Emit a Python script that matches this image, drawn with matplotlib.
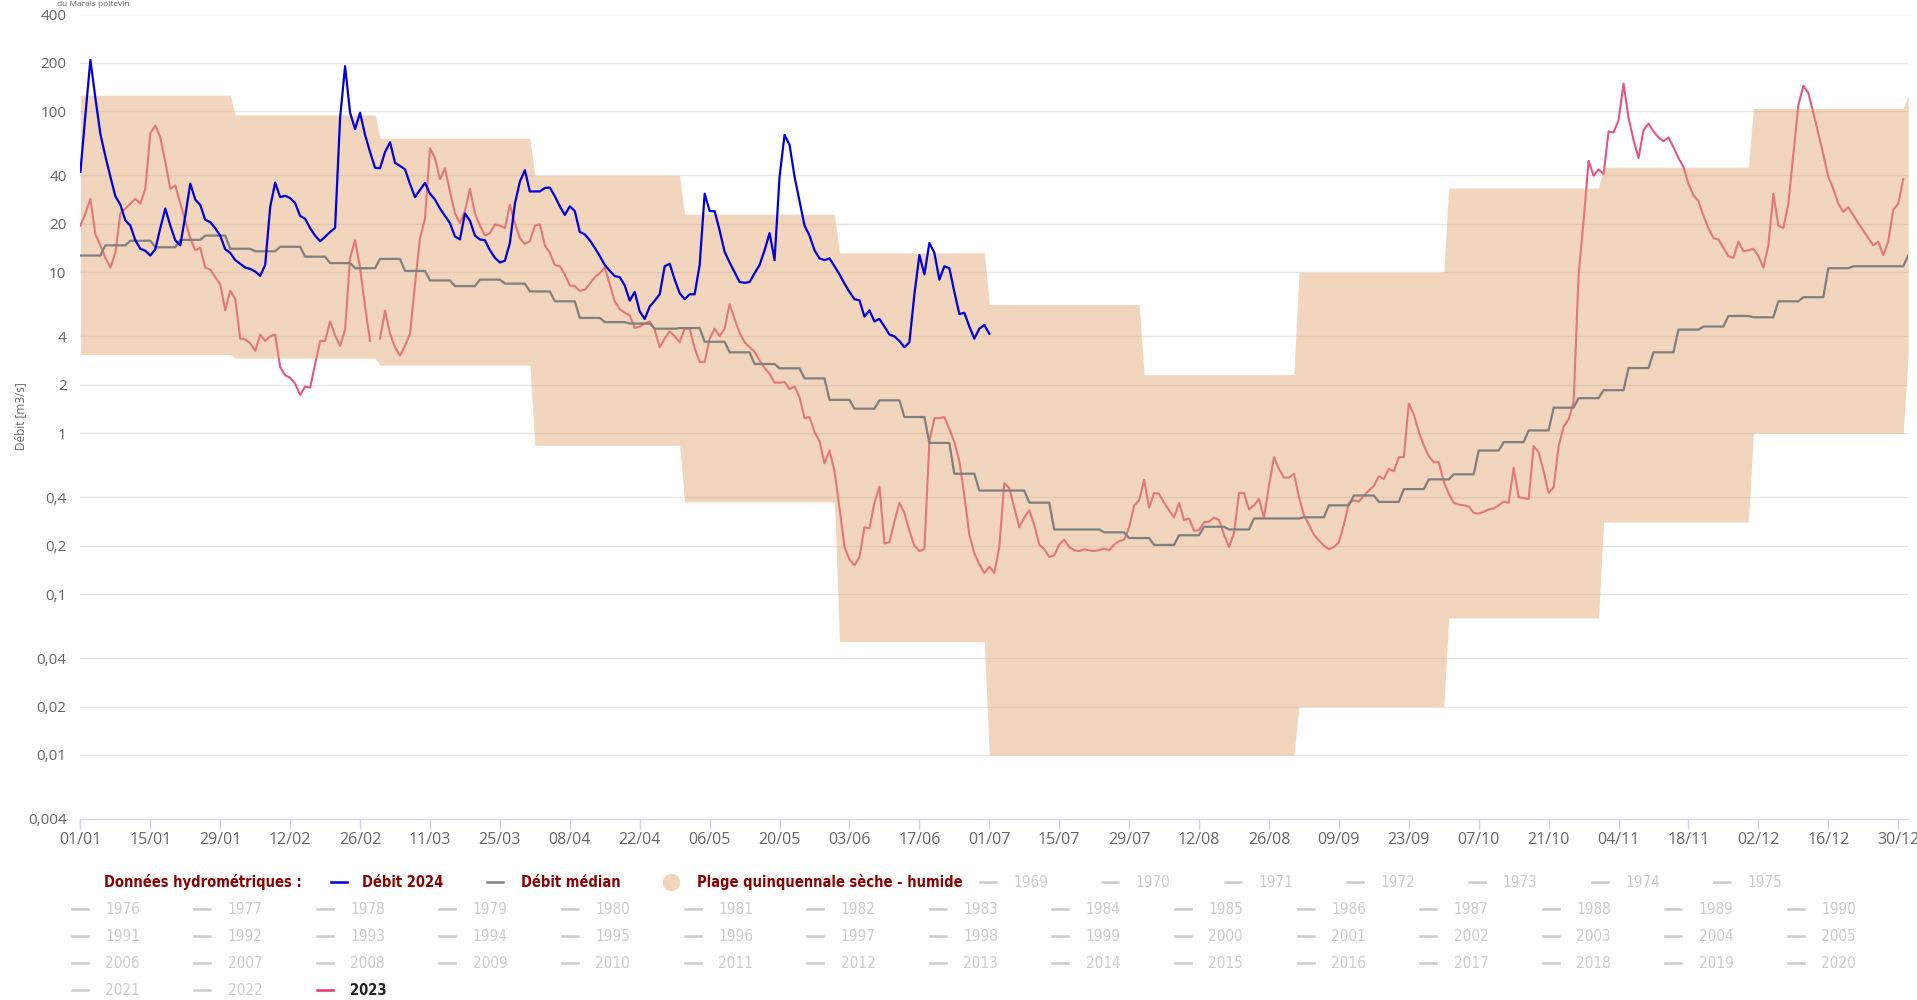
import numpy as np
import pandas as pd
import matplotlib
matplotlib.use("Agg")
import matplotlib.pyplot as plt
import matplotlib.dates as mdates
from matplotlib import font_manager as fm
from matplotlib.lines import Line2D

# Plage quinquennale seche / humide, une valeur par mois (m3/s)
plage_haute = [126, 95, 68, 40, 23, 13.2, 6.3, 2.31, 10, 33.4, 44.9, 104]
plage_basse = [3.08, 2.93, 2.65, 0.84, 0.374, 0.0506, 0.01, 0.01, 0.02, 0.071, 0.28, 1.0]

# Debit median, paliers de 5 jours
mediane_5j = [12.7, 14.7, 15.7, 14.3, 15.9, 16.9, 14.0, 13.5, 14.4, 12.5,
              11.4, 10.6, 12.1, 10.2, 8.9, 8.2, 9.0, 8.5, 7.6, 6.6,
              5.2, 4.9, 4.8, 4.46, 4.5, 3.7, 3.18, 2.69, 2.53, 2.19,
              1.61, 1.42, 1.6, 1.26, 0.87, 0.56, 0.44, 0.44, 0.37, 0.252,
              0.252, 0.242, 0.223, 0.202, 0.232, 0.262, 0.252, 0.295, 0.295, 0.30,
              0.356, 0.41, 0.374, 0.449, 0.516, 0.555, 0.78, 0.88, 1.04, 1.44,
              1.65, 1.85, 2.54, 3.18, 4.4, 4.6, 5.35, 5.25, 6.6, 7.0,
              10.6, 10.9, 10.9, 10.9]

# Debit journalier 2024 (du 01/01 au 01/07)
debit_2024 = [42, 95, 209, 121, 72.4, 52.6, 39.3, 29.7, 26.3, 21,
              19.5, 15.8, 14, 13.6, 12.7, 13.9, 18.8, 24.9, 19.5, 15.8,
              14.7, 22.4, 35.6, 28.3, 26.2, 21.2, 20.5, 18.8, 16.9, 13.9,
              13.2, 11.9, 11.3, 10.7, 10.5, 10.1, 9.5, 11.1, 25.4, 36.1,
              29.3, 29.9, 28.9, 26.9, 22.4, 21.5, 18.8, 16.9, 15.6, 16.6,
              17.8, 18.9, 91, 191, 98, 77.6, 98, 71.4, 55.9, 44.6,
              44.3, 55.9, 64.3, 47.9, 45.8, 43.6, 35.4, 29.3, 32.5, 35.9,
              30.8, 28.3, 24.9, 22.4, 20.2, 16.7, 16, 23.2, 20.9, 16.9,
              16, 15.8, 13.7, 12.3, 11.5, 11.8, 15.2, 26.7, 36.6, 43.1,
              31.8, 31.8, 31.8, 33.4, 33.6, 29.7, 25.7, 22.7, 25.7, 24,
              17.8, 17.2, 15.8, 14.2, 12.6, 11.1, 10.2, 9.46, 9.33, 8.28,
              6.66, 7.55, 5.7, 5.13, 6.12, 6.66, 7.3, 10.9, 11.3, 9.0,
              7.4, 6.8, 7.3, 7.3, 11.1, 30.8, 24, 24, 18.2, 13.4,
              11.5, 10, 8.7, 8.6, 8.7, 9.86, 11.1, 13.7, 17.5, 11.9,
              39.3, 71.4, 62, 39.3, 27.7, 19.5, 16.9, 13.7, 12.2, 11.9,
              12.2, 10.9, 9.7, 8.5, 7.55, 6.8, 6.7, 5.3, 5.8, 4.95,
              5.13, 4.6, 4.1, 4.0, 3.74, 3.42, 3.67, 7.3, 12.8, 9.7,
              15.2, 13.2, 9.0, 10.9, 10.6, 7.55, 5.5, 5.6, 4.6, 3.87,
              4.46, 4.7, 4.15]

# Debit journalier 2023 (365 jours)
debit_2023 = [19.5, 23.2, 28.6, 17.2, 14.7, 12.3, 10.7, 13.2, 23.2, 24.9,
              26.7, 28.6, 26.7, 33, 73, 81.7, 68.9, 48.5, 33, 34.7,
              26.7, 20.9, 16.3, 13.7, 14.2, 10.7, 10.4, 9.33, 8.4, 5.8,
              7.7, 6.8, 3.87, 3.82, 3.61, 3.25, 4.1, 3.74, 4.0, 4.1,
              2.58, 2.29, 2.21, 2.03, 1.73, 1.95, 1.92, 2.69, 3.74, 3.74,
              4.95, 4.05, 3.49, 4.4, 12.3, 15.8, 10.7, 6.12, 3.74,
              3.87, 5.78, 4.15, 3.42, 3.03, 3.49, 4.15, 8.4, 16.3, 21.6,
              59, 51.3, 37.9, 44.3, 31.8, 23.2, 20.2, 24, 33, 23.2,
              19.5, 16.9, 17.5, 19.8, 19.5, 18.8, 26.2, 20.2, 16.3, 15,
              15.6, 19.5, 19.9, 14.7, 13.2, 11.1, 10.9, 9.7, 8.28, 8.2,
              7.66, 7.8, 8.5, 9.33, 9.86, 10.7, 8.4, 6.6, 5.9, 5.6,
              5.4, 4.5, 4.6, 4.8, 4.95, 4.4, 3.42, 3.87, 4.3, 4.0,
              3.67, 4.46, 4.46, 3.37, 2.77, 2.77, 3.87, 4.46, 4.0, 4.46,
              6.34, 5.13, 4.2, 3.67, 3.42, 3.2, 2.83, 2.54, 2.34, 2.06,
              2.06, 2.08, 1.88, 1.95, 1.67, 1.24, 1.26, 1.02, 0.89, 0.65,
              0.78, 0.58, 0.344, 0.196, 0.164, 0.151, 0.17, 0.26, 0.256, 0.369,
              0.466, 0.206, 0.21, 0.282, 0.369, 0.32, 0.247, 0.2, 0.185, 0.19,
              0.89, 1.24, 1.24, 1.26, 1.06, 0.88, 0.67, 0.41, 0.234, 0.179,
              0.153, 0.135, 0.148, 0.135, 0.196, 0.489, 0.456, 0.344, 0.26, 0.299,
              0.332, 0.269, 0.203, 0.19, 0.17, 0.174, 0.203, 0.218, 0.196, 0.187,
              0.185, 0.19, 0.187, 0.185, 0.188, 0.192, 0.187, 0.203, 0.213, 0.218,
              0.26, 0.356, 0.382, 0.513, 0.344, 0.425, 0.42, 0.369, 0.332, 0.299,
              0.369, 0.288, 0.295, 0.247, 0.25, 0.28, 0.282, 0.299, 0.288, 0.234,
              0.196, 0.24, 0.425, 0.425, 0.336, 0.356, 0.39, 0.299, 0.472, 0.71,
              0.6, 0.53, 0.53, 0.56, 0.40, 0.31, 0.27, 0.234, 0.215, 0.2,
              0.19, 0.196, 0.21, 0.27, 0.369, 0.382, 0.376, 0.41, 0.44, 0.47,
              0.54, 0.52, 0.6, 0.58, 0.71, 0.71, 1.53, 1.31, 1.02, 0.84,
              0.72, 0.66, 0.66, 0.5, 0.42, 0.37, 0.36, 0.356, 0.35, 0.32,
              0.316, 0.325, 0.336, 0.34, 0.356, 0.376, 0.369, 0.61, 0.4, 0.395,
              0.39, 0.83, 0.76, 0.58, 0.425, 0.46, 0.83, 1.1, 1.22, 1.56,
              9.7, 20.9, 49.2, 39.8, 43.6, 40.7, 75, 74, 88, 149,
              91, 66.5, 51.3, 76.5, 84, 75, 68.9, 65.2, 68.9, 59.8,
              51.3, 45.2, 35.4, 30.1, 27.7, 22.4, 18.8, 16.3, 16, 14.2,
              12.6, 12.3, 15.5, 13.5, 13.7, 14, 12.6, 10.7, 14.7, 30.8,
              19.5, 18.8, 26.7, 54, 109, 144, 130, 98, 73, 54,
              39.3, 33, 26.7, 23.7, 25.4, 22.7, 20.2, 18.2, 16.3, 14.7,
              15.5, 12.8, 15.5, 24.4, 26.7, 37.9]

yticks = [400, 200, 100, 40, 20, 10, 4, 2, 1, 0.4, 0.2, 0.1, 0.04, 0.02, 0.01, 0.004]
ytick_labels = ["400", "200", "100", "40", "20", "10", "4", "2", "1", "0,4", "0,2",
                "0,1", "0,04", "0,02", "0,01", "0,004"]
annees_grises = list(range(1969, 2023))

# --- mise en forme des series ---
jours = pd.date_range("2024-01-01", "2025-01-01")
haut = np.array(plage_haute)[jours.month - 1]
bas = np.array(plage_basse)[jours.month - 1]
mediane = np.append(np.repeat(mediane_5j, 5)[:366], mediane_5j[0])
s2023 = pd.Series(debit_2023,
                  index=pd.date_range("2023-01-01", "2023-12-31") + pd.DateOffset(years=1))
s2023 = s2023.reindex(jours[:366])

W, H = 1917, 1000
fig = plt.figure(figsize=(W / 100, H / 100), dpi=100)
ax = fig.add_axes([80.4 / W, 1 - 819 / H, 1827.8 / W, 804.5 / H])

col_plage = "#e2a26c"
ax.plot(s2023.index, s2023.values, color="#e0386c", lw=1.5, alpha=0.85, zorder=1.5)
ax.fill_between(jours, bas, haut, color=col_plage, alpha=0.45, lw=0, zorder=2)
ax.plot(jours, mediane, color="#808080", lw=1.6, zorder=3)
ax.plot(jours[:len(debit_2024)], debit_2024, color="#0000dd", lw=1.6, zorder=4)

ax.set_yscale("log")
ax.set_ylim(0.004, 400)
ax.set_xlim(jours[0], jours[-1])
ax.set_yticks(yticks)
ax.set_yticklabels(ytick_labels)
ax.yaxis.set_minor_locator(matplotlib.ticker.NullLocator())
ax.set_xticks(pd.date_range("2024-01-01", "2024-12-30", freq="14D"))
ax.xaxis.set_major_formatter(mdates.DateFormatter("%d/%m"))

ax.set_axisbelow(True)
ax.yaxis.grid(True, color="#e6e6e6", lw=1)
for sp in ["top", "right", "left"]:
    ax.spines[sp].set_visible(False)
ax.spines["bottom"].set_color("#ccd6eb")
ax.tick_params(axis="y", length=0, pad=10, labelsize=11, labelcolor="#666666")
ax.tick_params(axis="x", length=7, width=1, color="#ccd6eb", pad=2,
               labelsize=11.5, labelcolor="#666666")
for lab in ax.get_xticklabels() + ax.get_yticklabels():
    lab.set_family(["Open Sans", "DejaVu Sans"])

fig.text(21 / W, 1 - 416 / H, "Débit [m3/s]", rotation=90, ha="center", va="center",
         fontsize=8.5, color="#666666", family=["Open Sans", "DejaVu Sans"])
fig.text(57 / W, 1 - 4 / H, "du Marais poitevin", ha="left", va="center",
         fontsize=6, color="#666666", family=["Open Sans", "DejaVu Sans"])


# --- legende : police etroite si disponible, sinon Liberation Sans ---
def police(gras, taille_etroite, taille_normale):
    for f in fm.fontManager.ttflist:
        etroite = ("Narrow" in f.name or "Condensed" in f.name
                   or f.stretch in ("condensed", "semi-condensed"))
        w = f.weight
        est_gras = w == "bold" or (isinstance(w, (int, float)) and w >= 600)
        if etroite and est_gras == gras and f.style == "normal":
            return fm.FontProperties(fname=f.fname, size=taille_etroite)
    return fm.FontProperties(family="Liberation Sans",
                             weight="bold" if gras else "normal", size=taille_normale)


p_gras = police(True, 10.5, 10.5)
p_norm = police(False, 11, 11)
rouge = "#8b0000"


def tiret(x, y, couleur):
    fig.add_artist(Line2D([(x - 8) / W, (x + 8) / W], [1 - y / H, 1 - y / H],
                          color=couleur, lw=1.8, transform=fig.transFigure))


def texte(x, y, s, couleur, gras=False):
    # alignement sur la ligne de base pour que tous les libelles soient a la meme hauteur
    fig.text(x / W, 1 - (y + 5) / H, s, ha="left", va="baseline", color=couleur,
             fontproperties=p_gras if gras else p_norm)


y1 = 882
texte(104, y1, "Données hydrométriques :", rouge, True)
tiret(338.5, y1, "#0000dd")
texte(362, y1, "Débit 2024", rouge, True)
tiret(495, y1, "#808080")
texte(521, y1, "Débit médian", rouge, True)
fig.add_artist(Line2D([671 / W], [1 - y1 / H], marker="o", markersize=11.5, lw=0,
                      color="#f2d5bc", transform=fig.transFigure))
texte(697, y1, "Plage quinquennale sèche - humide", rouge, True)

for i, an in enumerate(annees_grises[:7]):
    x = 988 + 122.3 * i
    tiret(x, y1, "#cccccc")
    texte(x + 25.5, y1, str(an), "#cccccc")

lignes_y = [909, 936, 963, 990]
reste = annees_grises[7:] + [2023]
for j, an in enumerate(reste):
    ligne, col = divmod(j, 15)
    x = 79.5 + 122.6 * col
    y = lignes_y[ligne]
    if an == 2023:
        tiret(x, y, "#e0386c")
        texte(x + 25.5, y, "2023", "#222222", True)
    else:
        tiret(x, y, "#cccccc")
        texte(x + 25.5, y, str(an), "#cccccc")

fig.savefig("out.png", dpi=100)
